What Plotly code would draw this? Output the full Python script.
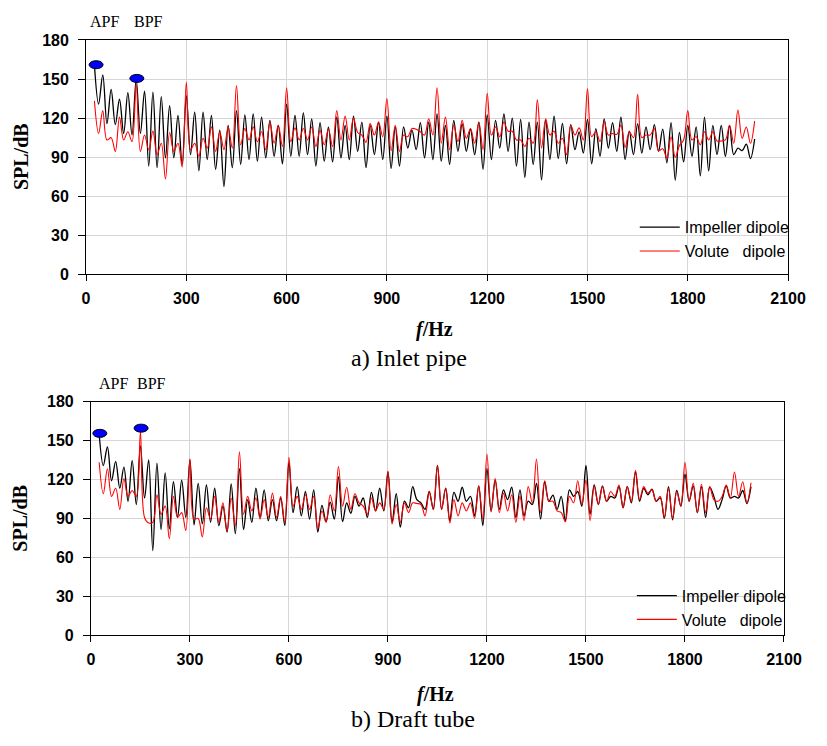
import plotly.graph_objects as go

# ---------------- data ----------------
f_start = 25.0
f_step = 12.5

# a) Inlet pipe
a_impeller = [
    161, 130.75, 153.25, 115.75, 142, 115,
    134.5, 108.25, 139.5, 107, 149.5, 108.25, 140.75, 83.25,
    140, 82, 136.5, 89.5, 129.5, 89.5, 122, 84.5,
    137, 92, 124.5, 79.5, 124.5, 88.25, 122, 80.75,
    110.75, 67.5, 114.5, 82, 125.75, 84.5, 122.5, 88.25,
    123.25, 87, 120.75, 89.5, 118.25, 90.75, 114.5, 85,
    130.75, 90.75, 122, 90.75, 124, 92, 119.5, 83.25,
    116.5, 87, 113, 86.5, 120.75, 89.5, 114.5, 88.25,
    121.5, 94.5, 117, 82, 114.5, 92, 117, 88.25,
    121.5, 81.5, 113.25, 83.25, 113.25, 97, 110.75, 95.75,
    116.5, 89.5, 117, 88.25, 123.25, 87, 114.5, 84.5,
    118.25, 94.5, 115.75, 94.5, 111.5, 92, 117, 80.75,
    122.5, 88.25, 118.25, 97, 123.25, 94.5, 120, 83.25,
    119, 74.5, 117, 84.5, 117, 72.5, 118.25, 88.25,
    121.5, 89, 116, 85, 115, 95.75, 109.5, 93.25,
    119, 85, 112, 90.75, 119.5, 97, 116.5, 94.5,
    120.75, 88.25, 110, 92, 115.75, 93.25, 113.25, 95.75,
    115, 94.5, 111.5, 85.75, 116.5, 72.5, 109, 86.5,
    114.5, 90.75, 113.25, 75.75, 120.75, 79.5, 114.5, 92,
    114.5, 90.75, 114.5, 92, 97, 95, 100, 89,
    104,
]
a_volute = [
    133.25, 108.25, 125.75, 103.25, 105, 94.5,
    120.75, 103.25, 109.5, 102, 145.75, 94.5, 107, 95.75,
    110, 92, 100.75, 73.25, 109, 94.5, 100.75, 82.5,
    147.5, 95.75, 100.75, 90.75, 104.5, 97, 113.25, 94.5,
    109.5, 95.75, 113.25, 97, 145, 99.5, 112, 103.25,
    113.25, 102, 109.5, 95.75, 117, 100.75, 114.5, 98.25,
    143.25, 102, 112.5, 103.25, 112, 103.25, 113.25, 98.25,
    110.75, 99.5, 111.5, 98.25, 125.75, 103.25, 121.5, 103.25,
    120, 109, 107, 101.5, 115.75, 107, 117, 105.75,
    135, 95, 114.5, 94.5, 107, 105.75, 112, 111.5,
    109.5, 107, 119.5, 107, 143.25, 100.75, 120.75, 95.75,
    114.5, 102, 118.25, 104.5, 112, 100.75, 117, 95.75,
    139, 107, 113.25, 105.75, 117, 110, 110, 103.25,
    103.25, 98.25, 104.5, 100.75, 134, 97, 119.5, 107,
    110, 100.75, 104.5, 92, 114.5, 107, 112.5, 103.25,
    142.5, 105.75, 109.5, 102, 117, 107, 108.25, 107.5,
    114.5, 97.5, 109.5, 105, 138.25, 105, 107, 107,
    112, 95, 96.5, 89.5, 105.75, 90, 99, 103.25,
    125.75, 103.25, 105.75, 99.5, 109.5, 103.25, 109.5, 102.5,
    102.5, 103.25, 114.5, 100.75, 126.25, 104.5, 113.25, 100.75,
    117.75,
]

# b) Draft tube
b_impeller = [
    155, 130.75, 145, 119, 134, 113.25,
    129.5, 103.25, 134.5, 100.75, 145.75, 105.75, 135, 65.25,
    132.5, 81.5, 125, 82, 118.25, 90.75, 119.5, 90.75,
    135, 85, 117, 85.75, 115.75, 87, 113.25, 84.5,
    99.5, 79.5, 116.5, 78.25, 128.25, 81.5, 104.5, 87,
    113.25, 90.75, 112, 88.25, 104.5, 88.25, 105.75, 84.5,
    133.25, 94.5, 114.5, 92, 110.75, 89.5, 112, 79.5,
    100, 87.5, 102.5, 89.5, 122, 87.5, 102, 94,
    107, 99.5, 105.75, 90.75, 110, 95.75, 113.25, 95.75,
    125.75, 87, 109, 83.25, 103.25, 98.25, 114.5, 104.5,
    102, 97, 110.75, 97, 130.75, 97, 113.25, 88.25,
    110, 103.25, 114, 103.25, 107, 92, 115, 84.5,
    128.25, 95.75, 119.5, 97, 112, 104.5, 114, 90.75,
    112, 92, 103.25, 100.75, 117, 89.5, 118.25, 103.25,
    108, 97, 107, 88.25, 112, 107, 110.75, 99.5,
    130.75, 93.25, 115.75, 100.75, 115, 103.25, 107, 105.75,
    114.5, 98.25, 114.5, 102, 125.75, 103.25, 113.25, 108.25,
    112.5, 103.25, 105.75, 90, 114.5, 89, 111.5, 99.5,
    124, 103.25, 115, 94.5, 114.5, 90.75, 114, 107,
    97, 104.5, 115, 105.75, 107, 105.75, 111.5, 101.5,
    114.5,
]
b_volute = [
    133.25, 109, 128.25, 107, 113.25, 97,
    120.75, 107, 111.5, 107, 156.5, 90.75, 86.5, 87,
    108.25, 93.25, 99.5, 74.5, 107, 90.75, 94.5, 80.75,
    135.75, 89.5, 90, 75.75, 98.25, 89.5, 107, 87,
    102, 80, 105.75, 84.5, 141.25, 93.25, 107, 95.75,
    105.75, 89.5, 104.5, 90.75, 109.5, 90.75, 107, 87,
    137, 99.5, 107, 97, 108.25, 97, 107, 82,
    95.75, 87, 108.25, 95.75, 130, 99.5, 114, 97,
    109, 102, 99.5, 93.25, 105.75, 95.75, 102, 97,
    126.5, 85.75, 100.75, 87, 102, 94.5, 102, 101.5,
    100.75, 92, 110.75, 97, 130.75, 97, 113.25, 86.5,
    104.5, 92, 102, 95.75, 102, 90, 115, 89.5,
    139.5, 95, 120.75, 94.5, 109.5, 95.75, 108.25, 87,
    107, 88.25, 114.5, 102, 135.75, 94.5, 119, 103.25,
    103.25, 95.75, 94.5, 87.5, 107, 102, 119, 100.75,
    119.5, 88.25, 115, 100.75, 114.5, 103.25, 110.75, 107,
    115.75, 98.25, 114.5, 103.25, 127, 104.5, 114.5, 109.5,
    112, 103.25, 107, 90.75, 113.25, 90, 110.75, 99.5,
    133.25, 103.25, 117, 94.5, 116.5, 94.5, 114.5, 104.5,
    103.25, 107, 115.75, 105.75, 125.75, 107, 118.25, 102,
    117.5,
]

# APF / BPF marker positions (Hz, dB)
a_marker_f = [30, 152]
a_marker_db = [161, 150.5]
b_marker_f = [27, 152]
b_marker_db = [155.5, 159.5]

x_ticks = [0, 300, 600, 900, 1200, 1500, 1800, 2100]
y_ticks = [0, 30, 60, 90, 120, 150, 180]


def freqs(vals):
    return [f_start + f_step * i for i in range(len(vals))]


W, H = 827, 746
TICKFONT = dict(family="Arial, Liberation Sans", size=16, color="black", weight="bold")
SERIF = "Times New Roman, Liberation Serif"
GRID = "#d6d6d6"

fig = go.Figure()

def add_line(vals, color, width, name, xa, ya, legend, show):
    fig.add_trace(go.Scatter(
        x=freqs(vals), y=vals, mode="lines", name=name,
        line=dict(color=color, width=width, shape="spline", smoothing=1.0),
        xaxis=xa, yaxis=ya, legend=legend, showlegend=show,
    ))

add_line(a_impeller, "black", 1.3, "Impeller dipole", "x", "y", "legend", True)
add_line(a_volute, "#ff0000", 1.1, "Volute\u00a0\u00a0\u00a0dipole", "x", "y", "legend", True)
add_line(b_impeller, "black", 1.3, "Impeller dipole", "x2", "y2", "legend2", True)
add_line(b_volute, "#ff0000", 1.1, "Volute\u00a0\u00a0\u00a0dipole", "x2", "y2", "legend2", True)

# blue ellipse markers (APF, BPF)
shapes = []
for xs, ys, xr, yr in [(a_marker_f, a_marker_db, "x", "y"), (b_marker_f, b_marker_db, "x2", "y2")]:
    for fx, dy in zip(xs, ys):
        shapes.append(dict(
            type="circle", xref=xr, yref=yr,
            xsizemode="pixel", ysizemode="pixel",
            xanchor=fx, yanchor=dy, x0=-7, x1=7, y0=-4, y1=4,
            fillcolor="#0000ff", line=dict(color="black", width=1), layer="above",
        ))

def xaxis(domain, anchor):
    return dict(
        domain=domain, anchor=anchor, range=[0, 2100], tickvals=x_ticks,
        showgrid=True, gridcolor=GRID, gridwidth=1,
        showline=True, linecolor="black", linewidth=1, mirror=True,
        ticks="outside", ticklen=6, tickcolor="black", tickwidth=1,
        tickfont=TICKFONT, ticklabelstandoff=3, zeroline=False,
    )

def yaxis(domain, anchor):
    return dict(
        domain=domain, anchor=anchor, range=[0, 180], tickvals=y_ticks,
        showgrid=True, gridcolor=GRID, gridwidth=1,
        showline=True, linecolor="black", linewidth=1, mirror=True,
        ticks="outside", ticklen=7, tickcolor="black", tickwidth=1,
        tickfont=TICKFONT, ticklabelstandoff=6, zeroline=False,
    )

def px(xp):
    return xp / W

def py(yp):
    return 1 - yp / H

annotations = []
def text(s, xp, yp, size, bold=False, angle=0, family=SERIF):
    annotations.append(dict(
        text=s, x=px(xp), y=py(yp), xref="paper", yref="paper",
        showarrow=False, xanchor="center", yanchor="middle", textangle=angle,
        font=dict(family=family, size=size, color="black", weight="bold" if bold else "normal"),
    ))

# panel a
text("SPL/dB", 17, 152, 20, bold=True, angle=-90)
text("<i>f</i>/Hz", 442, 329, 20, bold=True)
text("a) Inlet pipe", 416, 358, 24)
text("APF", 103, 14, 16)
text("BPF", 148, 14, 16)
# panel b
text("SPL/dB", 17, 522, 20, bold=True, angle=-90)
text("<i>f</i>/Hz", 443, 702, 20, bold=True)
text("b) Draft tube", 420, 728, 24)
text("APF", 112, 384, 16)
text("BPF", 152, 384, 16)

LEGFONT = dict(family="Arial, Liberation Sans", size=16, color="black")

fig.update_layout(
    width=W, height=H,
    margin=dict(l=0, r=0, t=0, b=0),
    paper_bgcolor="white", plot_bgcolor="white",
    xaxis=xaxis([px(84.3), px(805.5)], "y"),
    yaxis=yaxis([py(272.7), py(32.7)], "x"),
    xaxis2=xaxis([px(89.3), px(801.3)], "y2"),
    yaxis2=yaxis([py(642), py(402.7)], "x2"),
    shapes=shapes,
    annotations=annotations,
    legend=dict(x=px(648), y=py(207), xanchor="left", yanchor="top",
                bgcolor="rgba(0,0,0,0)", font=LEGFONT, itemwidth=40,
                tracegroupgap=0, borderwidth=0),
    legend2=dict(x=px(645), y=py(584), xanchor="left", yanchor="top",
                 bgcolor="rgba(0,0,0,0)", font=LEGFONT, itemwidth=40,
                 tracegroupgap=0, borderwidth=0),
)

fig.write_html("out.html")
